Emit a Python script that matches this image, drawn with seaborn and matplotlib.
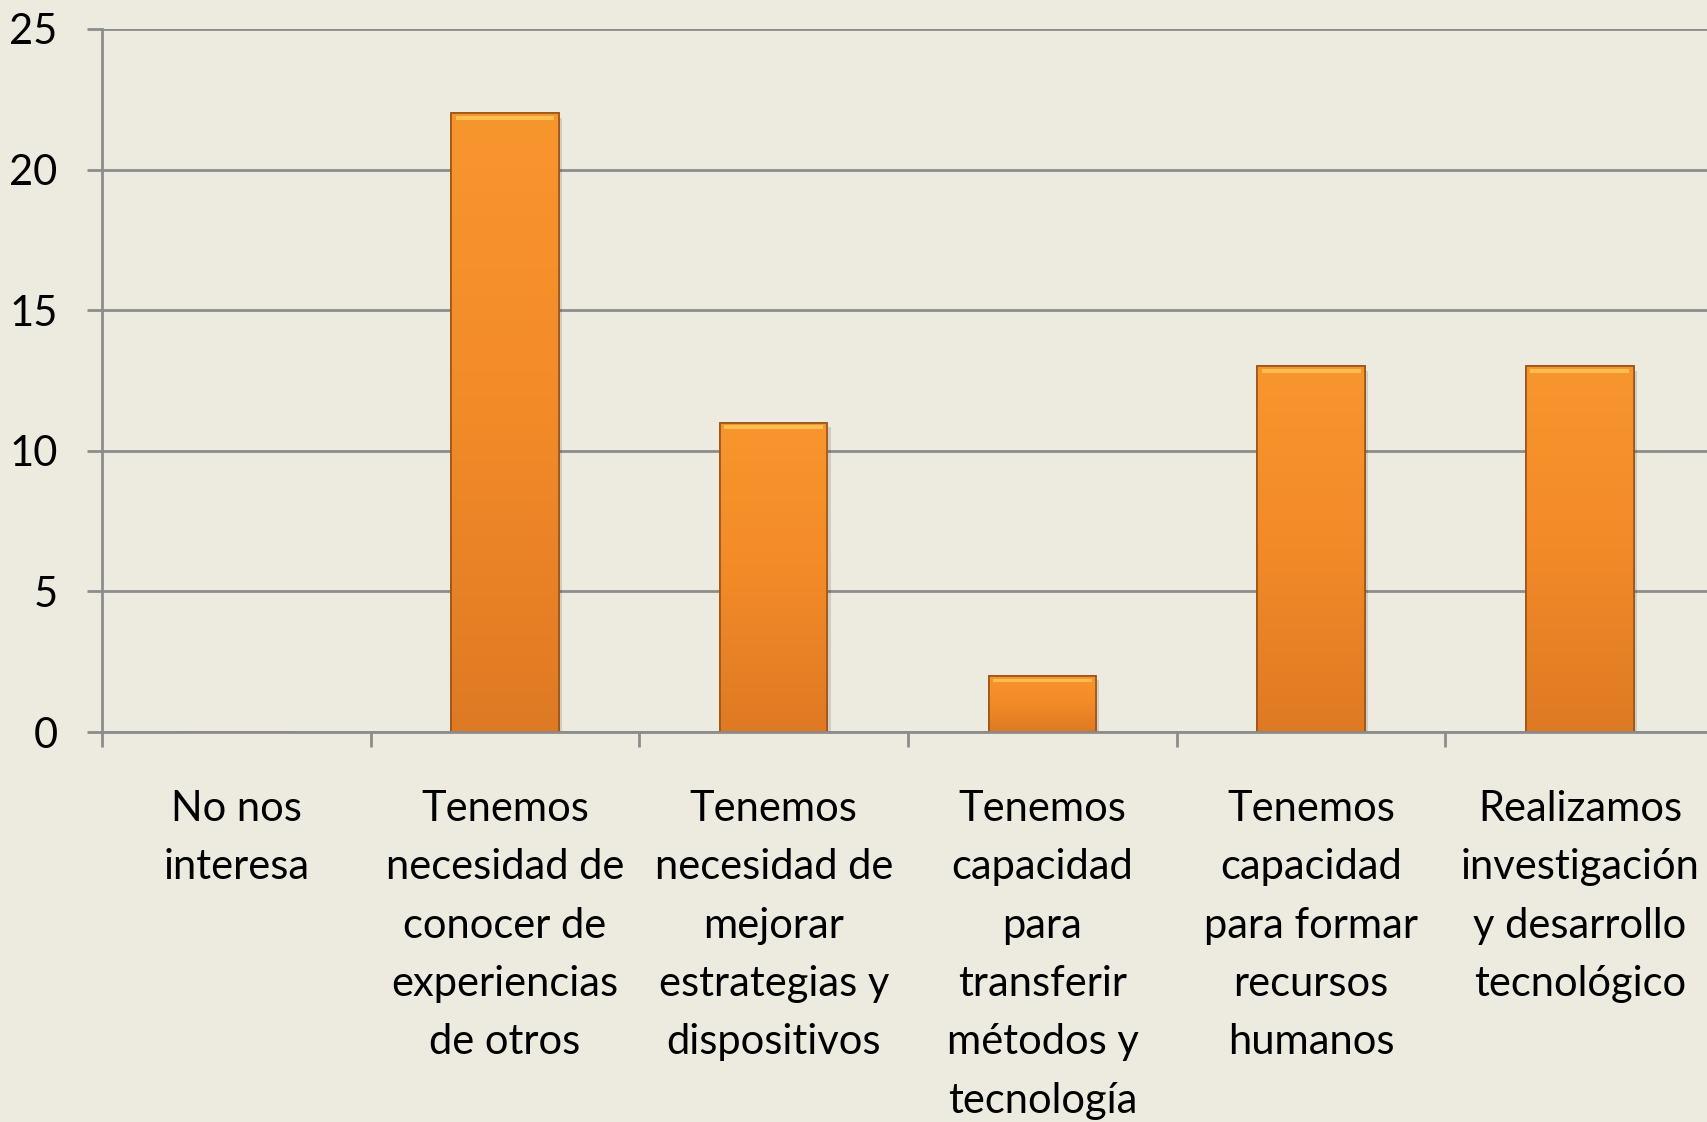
import numpy as np
import pandas as pd
import matplotlib
matplotlib.use("Agg")
import matplotlib.pyplot as plt
import seaborn as sns
from matplotlib.colors import LinearSegmentedColormap

categories = [
    "No nos\ninteresa",
    "Tenemos\nnecesidad de\nconocer de\nexperiencias\nde otros",
    "Tenemos\nnecesidad de\nmejorar\nestrategias y\ndispositivos",
    "Tenemos\ncapacidad\npara\ntransferir\nmétodos y\ntecnología",
    "Tenemos\ncapacidad\npara formar\nrecursos\nhumanos",
    "Realizamos\ninvestigación\ny desarrollo\ntecnológico",
]
values = [0, 22, 11, 2, 13, 13]
y_ticks = [0, 5, 10, 15, 20, 25]

BG = "#EDEBE0"
GRID = "#8C8C8C"

sns.set_theme(style="white")
plt.rcParams["font.family"] = ["Lato", "DejaVu Sans"]

fig = plt.figure(figsize=(17.08, 11.22), dpi=100, facecolor=BG)
ax_left = 102 / 1708
ax_w = 6 * 268.7 / 1708
ax_bottom = (1122 - 732) / 1122
ax_h = (732 - 29) / 1122
ax = fig.add_axes([ax_left, ax_bottom, ax_w, ax_h])
ax.set_facecolor(BG)

df = pd.DataFrame({"cat": categories, "val": values})
sns.barplot(data=df, x="cat", y="val", ax=ax, width=0.4, color="#F7922B",
            edgecolor="#9A5418", linewidth=1.2, zorder=3)

ax.set_ylim(0, 25)
ax.set_xlim(-0.5, len(categories) - 0.5)
ax.set_yticks(y_ticks)
ax.set_yticklabels([str(t) for t in y_ticks])
ax.yaxis.grid(True, color=GRID, linewidth=2, zorder=0)
ax.set_axisbelow(True)
ax.set_xlabel("")
ax.set_ylabel("")

# gradient fill for bars
cmap = LinearSegmentedColormap.from_list("og", ["#DE7A24", "#F28A28", "#F8962E"])
for p in ax.patches:
    x0, y0 = p.get_x(), p.get_y()
    w, h = p.get_width(), p.get_height()
    if h <= 0:
        continue
    ax.add_patch(plt.Rectangle((x0 + 0.012, y0 - 0.15), w, h, facecolor="#000000",
                               alpha=0.12, edgecolor="none", zorder=2))
    grad = np.linspace(0, 1, 256).reshape(-1, 1)
    im = ax.imshow(grad, extent=[x0, x0 + w, y0, y0 + h], origin="lower",
                   aspect="auto", cmap=cmap, zorder=3.1)
    im.set_clip_path(p)
    ax.add_patch(plt.Rectangle((x0 + w * 0.04, y0 + h - 0.22), w * 0.92, 0.12,
                               facecolor="#FFD060", alpha=0.7, edgecolor="none", zorder=3.2))
    ax.add_patch(plt.Rectangle((x0, y0), w, h, facecolor="none",
                               edgecolor="#9A5418", linewidth=1.2, zorder=3.3))
ax.set_xlim(-0.5, len(categories) - 0.5)
ax.set_ylim(0, 25)

for s in ["top", "right"]:
    ax.spines[s].set_visible(False)
for s in ["left", "bottom"]:
    ax.spines[s].set_color(GRID)
    ax.spines[s].set_linewidth(2)
    ax.spines[s].set_zorder(4)

ax.set_xticks(np.arange(len(categories) + 1) - 0.5, minor=True)
ax.tick_params(axis="x", which="minor", length=11, width=2, color=GRID, direction="out", bottom=True)
ax.tick_params(axis="x", which="major", length=0, pad=41.5, labelsize=30)
ax.tick_params(axis="y", which="major", length=11, width=2, color=GRID, direction="out",
               left=True, pad=21, labelsize=30)
for lbl in ax.get_xticklabels():
    lbl.set_linespacing(1.66)
    lbl.set_color("black")
for lbl in ax.get_yticklabels():
    lbl.set_color("black")

fig.savefig("out.png", dpi=100, facecolor=BG)
